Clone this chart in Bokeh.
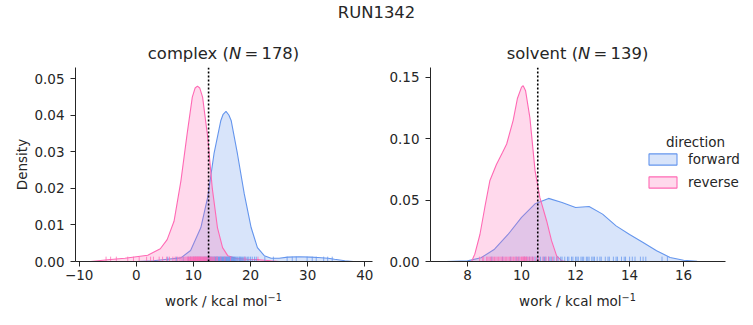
from bokeh.plotting import figure
from bokeh.models import (Range1d, FixedTicker, Span, Label, Legend, LegendItem, Div)
from bokeh.layouts import column, row
from bokeh.embed import file_html
from bokeh.resources import INLINE

# ---------------- data ----------------
suptitle = "RUN1342"
panel_names = ["complex", "solvent"]
panel_n = [178, 139]
xlabel_main = "work / kcal mol"
xlabel_sup = "\u22121"
ylabel = "Density"
legend_title = "direction"
directions = ["forward", "reverse"]
colors = ["#6495ED", "#FF69B4"]

# complex phase: KDE curves
cx_fwd = [0, 3, 5.4, 7.8, 9.5, 11.3, 12.5, 13.6, 14.8, 15.2, 15.7, 16.2, 16.6, 17.7, 18.9, 20.1,
          21.2, 22.4, 23.6, 25.0, 26.5, 28.5, 30.5, 31.8, 33.6, 34.7, 36.5, 38.0]
cy_fwd = [0, 0.0002, 0.0006, 0.001, 0.003, 0.0093, 0.0176, 0.0295, 0.0386, 0.0403, 0.0411, 0.0401,
          0.0386, 0.0295, 0.0185, 0.0093, 0.0038, 0.0016, 0.0009, 0.0009, 0.0012, 0.0013, 0.0012,
          0.0011, 0.0009, 0.0006, 0.0002, 0.0]
cx_rev = [-8, -5, -2, 0, 2, 4.2, 5.4, 6.6, 7.8, 8.9, 9.8, 10.3, 10.7, 11.1, 11.6, 12.5, 13.3,
          14.2, 15.1, 16.0, 17.5, 19.5, 21.5, 23.5, 25.0]
cy_rev = [0, 0.0005, 0.0009, 0.0013, 0.0017, 0.0035, 0.006, 0.011, 0.022, 0.035, 0.045, 0.0475,
          0.048, 0.0475, 0.045, 0.034, 0.020, 0.0093, 0.0038, 0.0016, 0.0008, 0.0006, 0.0005,
          0.0002, 0]
c_rug_fwd = [5.5, 7.0, 8.2, 9.1, 9.5, 10.0, 10.4, 10.8, 11.2, 11.5, 11.8, 12.0, 12.2, 12.4, 12.6,
             12.8, 13.0, 13.1, 13.25, 13.4, 13.55, 13.7, 13.8, 13.9, 14.0, 14.1, 14.2, 14.3, 14.4,
             14.5, 14.6, 14.7, 14.8, 14.9, 15.0, 15.1, 15.2, 15.3, 15.4, 15.5, 15.6, 15.7, 15.8,
             15.9, 16.0, 16.1, 16.2, 16.3, 16.4, 16.5, 16.6, 16.7, 16.8, 16.9, 17.0, 17.1, 17.2,
             17.35, 17.5, 17.65, 17.8, 18.0, 18.1, 18.25, 18.4, 18.6, 18.8, 19.0, 19.2, 19.5,
             19.7, 20.0, 20.3, 20.7, 21.0, 22.5, 24.0, 26.4, 27.3, 28.0, 29.9, 30.8, 31.5, 32.8,
             33.5, 34.3]
c_rug_rev = [-5.3, -4.5, -3.5, -1.5, -0.5, 0.5, 1.8, 2.5, 3.0, 4.0, 4.6, 5.3, 5.8, 6.4, 6.8,
             7.2, 7.5, 7.8, 8.0, 8.3, 8.5, 8.7, 8.9, 9.0, 9.15, 9.3, 9.4, 9.5, 9.6, 9.7, 9.8,
             9.9, 10.0, 10.1, 10.15, 10.2, 10.3, 10.4, 10.45, 10.5, 10.6, 10.7, 10.75, 10.8,
             10.9, 11.0, 11.05, 11.1, 11.2, 11.3, 11.4, 11.5, 11.6, 11.7, 11.8, 11.9, 12.0, 12.1,
             12.2, 12.3, 12.4, 12.55, 12.7, 12.85, 13.0, 13.15, 13.3, 13.5, 13.7, 14.0, 14.2,
             14.8, 15.5, 16.5, 19.0, 21.3]
c_mean = 12.65

# solvent phase
sx_fwd = [7.2, 8, 8.5, 9, 9.5, 10, 10.5, 11, 11.5, 12, 12.5, 13, 13.5, 14, 14.5, 15, 15.5, 16,
          16.5, 17.2]
sy_fwd = [0, 0.0005, 0.003, 0.010, 0.022, 0.036, 0.047, 0.0514, 0.048, 0.044, 0.0448, 0.0386,
          0.029, 0.022, 0.0155, 0.0087, 0.0033, 0.001, 0.0002, 0]
sx_rev = [8.15, 8.27, 8.46, 8.64, 8.83, 9.07, 9.3, 9.45, 9.69, 9.85, 10.0, 10.06, 10.15, 10.31,
          10.5, 10.68, 10.93, 11.11, 11.3, 11.49, 11.65]
sy_rev = [0, 0.006, 0.022, 0.044, 0.066, 0.079, 0.089, 0.0957, 0.115, 0.133, 0.142, 0.1432,
          0.139, 0.117, 0.074, 0.052, 0.033, 0.017, 0.0046, 0.0005, 0]
s_rug_fwd = [8.9, 9.3, 9.6, 9.8, 9.9, 10.1, 10.2, 10.3, 10.4, 10.5, 10.6, 10.7, 10.8, 10.85,
             10.9, 11.0, 11.05, 11.1, 11.2, 11.3, 11.35, 11.45, 11.5, 11.6, 11.7, 11.75, 11.85,
             11.9, 12.0, 12.05, 12.1, 12.2, 12.25, 12.3, 12.4, 12.45, 12.5, 12.6, 12.65, 12.7,
             12.8, 12.9, 12.95, 13.1, 13.2, 13.25, 13.4, 13.5, 13.55, 13.7, 13.8, 13.85, 14.0,
             14.1, 14.2, 14.4, 14.5, 14.6, 15.2, 15.4]
s_rug_rev = [8.45, 8.55, 8.6, 8.7, 8.75, 8.8, 8.85, 8.9, 8.95, 9.0, 9.05, 9.1, 9.15, 9.2, 9.25,
             9.3, 9.35, 9.4, 9.45, 9.5, 9.55, 9.6, 9.65, 9.7, 9.75, 9.8, 9.85, 9.9, 9.95, 10.0,
             10.02, 10.05, 10.08, 10.1, 10.12, 10.15, 10.18, 10.2, 10.25, 10.3, 10.35, 10.4,
             10.45, 10.55, 10.65, 10.8, 10.9, 11.0, 11.15, 11.3]
s_mean = 10.6

c_xticks = [-10, 0, 10, 20, 30, 40]
c_xlabels = ["\u221210", "0", "10", "20", "30", "40"]
c_yticks = [0, 0.01, 0.02, 0.03, 0.04, 0.05]
c_ylabels = ["0.00", "0.01", "0.02", "0.03", "0.04", "0.05"]
s_xticks = [8, 10, 12, 14, 16]
s_xlabels = ["8", "10", "12", "14", "16"]
s_yticks = [0, 0.05, 0.10, 0.15]
s_ylabels = ["0.00", "0.05", "0.10", "0.15"]

# ---------------- style ----------------
FONT = "DejaVu Sans"
TXT = "#262626"
TICK_FS = "13.5px"
TITLE_FS = "16.4px"


def style_axes(p, xt, xl, yt, yl, ylab=None):
    p.xaxis.ticker = FixedTicker(ticks=xt)
    p.xaxis.major_label_overrides = {t: l for t, l in zip(xt, xl)}
    p.yaxis.ticker = FixedTicker(ticks=yt)
    p.yaxis.major_label_overrides = {t: l for t, l in zip(yt, yl)}
    for ax in (p.xaxis[0], p.yaxis[0]):
        ax.axis_line_color = TXT
        ax.major_tick_line_color = TXT
        ax.major_tick_out = 5
        ax.major_tick_in = 0
        ax.minor_tick_line_color = None
        ax.major_label_text_font = FONT
        ax.major_label_text_font_size = TICK_FS
        ax.major_label_text_color = TXT
        ax.axis_label_text_font = FONT
        ax.axis_label_text_font_size = TICK_FS
        ax.axis_label_text_font_style = "normal"
        ax.axis_label_text_color = TXT
    p.xaxis.major_label_standoff = 3
    p.yaxis.major_label_standoff = 6
    if ylab:
        p.yaxis.axis_label = ylab
        p.yaxis.axis_label_standoff = 1
    p.xgrid.visible = False
    p.ygrid.visible = False
    p.outline_line_color = None


def draw_panel(p, curves, rugs, rug_h, mean):
    rends = []
    for (xs, ys), col in zip(curves, colors):
        r = p.patch(x=xs, y=ys, fill_color=col, fill_alpha=0.25, line_color=col, line_width=1.1)
        rends.append(r)
    for vals, col in zip(rugs, colors):
        p.segment(x0=vals, y0=[0] * len(vals), x1=vals, y1=[rug_h] * len(vals),
                  line_color=col, line_width=1, line_alpha=0.75)
    p.add_layout(Span(location=mean, dimension="height", line_color="black",
                      line_dash="2 2", line_width=1.6))
    return rends


# ---------------- left panel ----------------
p1 = figure(width=385, height=224, output_backend="svg", toolbar_location=None,
            x_range=Range1d(-10.65, 41.35), y_range=Range1d(0, 0.0531),
            min_border_left=75, min_border_right=13, min_border_top=0, min_border_bottom=30,
            background_fill_color="white", border_fill_color="white")
draw_panel(p1, [(cx_fwd, cy_fwd), (cx_rev, cy_rev)], [c_rug_fwd, c_rug_rev], 0.0531 * 0.025, c_mean)
style_axes(p1, c_xticks, c_xlabels, c_yticks, c_ylabels, ylabel)

# ---------------- right panel (frame runs to the edge; axis line bounded) ----------------
s_xmin, s_xmax = 6.63, 17.55
p2 = figure(width=368, height=224, output_backend="svg", toolbar_location=None,
            x_range=Range1d(s_xmin, s_xmin + (s_xmax - s_xmin) * 323 / 295),
            y_range=Range1d(0, 0.158),
            min_border_left=45, min_border_right=0, min_border_top=0, min_border_bottom=30,
            background_fill_color="white", border_fill_color="white")
leg_rends = draw_panel(p2, [(sx_fwd, sy_fwd), (sx_rev, sy_rev)], [s_rug_fwd, s_rug_rev],
                       0.158 * 0.025, s_mean)
style_axes(p2, s_xticks, s_xlabels, s_yticks, s_ylabels)
p2.xaxis.bounds = (s_xmin, s_xmax)

legend = Legend(items=[LegendItem(label=d, renderers=[r]) for d, r in zip(directions, leg_rends)],
                location=(215, 71), padding=0, margin=0, spacing=7, glyph_width=35,
                glyph_height=14, label_height=14, label_standoff=8,
                label_text_font=FONT, label_text_font_size=TICK_FS, label_text_color=TXT,
                background_fill_alpha=0, border_line_alpha=0, click_policy="none")
p2.add_layout(legend)
p2.add_layout(Label(x=265, y=120, x_units="screen", y_units="screen", text=legend_title,
                    text_align="center", text_baseline="middle", text_font=FONT,
                    text_font_size=TICK_FS, text_color=TXT))

# ---------------- header: suptitle and panel titles ----------------
frames = [(75, 297), (430, 295)]


def title_html(name, n, left, width):
    return ('<div style="position:absolute;left:%dpx;width:%dpx;top:44px;text-align:center;'
            'font-size:%s;line-height:20px;white-space:nowrap">%s (<i>N</i>\u2009=\u2009%d)</div>'
            % (left, width, TITLE_FS, name, n))


header_html = (
    '<div style="position:relative;width:753px;height:67px;font-family:\'%s\';color:%s">' % (FONT, TXT)
    + '<div style="position:absolute;left:0px;width:753px;top:3px;text-align:center;'
      'font-size:%s;line-height:20px">%s</div>' % (TITLE_FS, suptitle)
    + "".join(title_html(nm, n, l, w) for nm, n, (l, w) in zip(panel_names, panel_n, frames))
    + '</div>'
)
header = Div(text=header_html, width=753, height=67, margin=(0, 0, 0, 0))


# ---------------- footer: x-axis labels ----------------
def xlabel_html(left, width):
    return ('<div style="position:absolute;left:%dpx;width:%dpx;top:2px;text-align:center;'
            'font-size:%s;line-height:16px;white-space:nowrap">%s<span style="font-size:9.7px;'
            'position:relative;top:-5.3px">%s</span></div>'
            % (left, width, TICK_FS, xlabel_main, xlabel_sup))


footer_html = (
    '<div style="position:relative;width:753px;height:34px;font-family:\'%s\';color:%s">' % (FONT, TXT)
    + "".join(xlabel_html(l, w) for l, w in frames)
    + '</div>'
)
footer = Div(text=footer_html, width=753, height=34, margin=(0, 0, 0, 0))

layout = column(header, row(p1, p2, spacing=0), footer, spacing=0)
open("out.html", "w").write(file_html(layout, INLINE))
